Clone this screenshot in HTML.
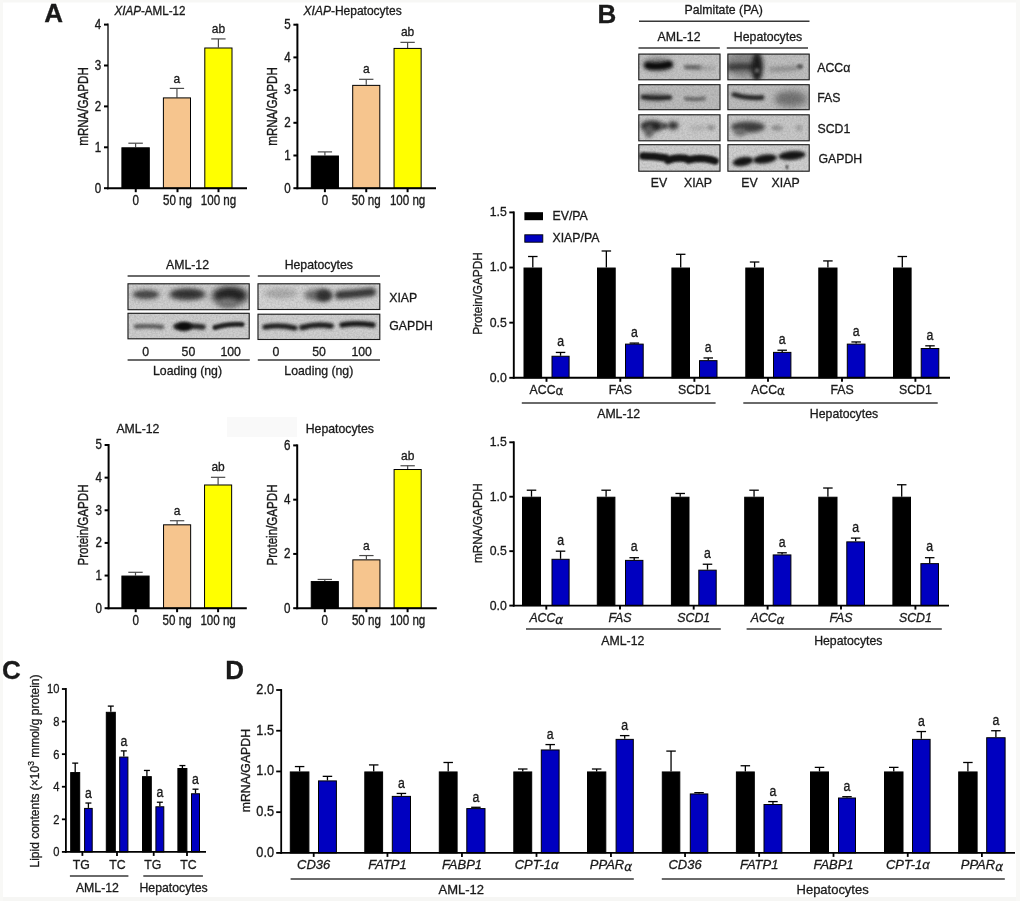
<!DOCTYPE html>
<html><head><meta charset="utf-8"><title>Figure</title>
<style>
html,body{margin:0;padding:0;background:#fff;}
body{width:1020px;height:901px;overflow:hidden;}
svg{display:block;will-change:transform;}
text{font-family:"Liberation Sans", Arial, sans-serif;fill:#1a1a1a;stroke:#1a1a1a;stroke-width:0.3px;}
</style></head><body>
<svg width="1020" height="901" viewBox="0 0 1020 901">
<defs><filter id="b5" filterUnits="userSpaceOnUse" x="0" y="0" width="1020" height="901"><feGaussianBlur stdDeviation="0.5"/></filter><filter id="b6" filterUnits="userSpaceOnUse" x="0" y="0" width="1020" height="901"><feGaussianBlur stdDeviation="0.6"/></filter><filter id="b7" filterUnits="userSpaceOnUse" x="0" y="0" width="1020" height="901"><feGaussianBlur stdDeviation="0.7"/></filter><filter id="b8" filterUnits="userSpaceOnUse" x="0" y="0" width="1020" height="901"><feGaussianBlur stdDeviation="0.8"/></filter><filter id="b9" filterUnits="userSpaceOnUse" x="0" y="0" width="1020" height="901"><feGaussianBlur stdDeviation="0.9"/></filter><filter id="b10" filterUnits="userSpaceOnUse" x="0" y="0" width="1020" height="901"><feGaussianBlur stdDeviation="1.0"/></filter><filter id="b11" filterUnits="userSpaceOnUse" x="0" y="0" width="1020" height="901"><feGaussianBlur stdDeviation="1.1"/></filter><filter id="b12" filterUnits="userSpaceOnUse" x="0" y="0" width="1020" height="901"><feGaussianBlur stdDeviation="1.2"/></filter><filter id="b13" filterUnits="userSpaceOnUse" x="0" y="0" width="1020" height="901"><feGaussianBlur stdDeviation="1.3"/></filter><filter id="b14" filterUnits="userSpaceOnUse" x="0" y="0" width="1020" height="901"><feGaussianBlur stdDeviation="1.4"/></filter><filter id="b15" filterUnits="userSpaceOnUse" x="0" y="0" width="1020" height="901"><feGaussianBlur stdDeviation="1.5"/></filter><filter id="b16" filterUnits="userSpaceOnUse" x="0" y="0" width="1020" height="901"><feGaussianBlur stdDeviation="1.6"/></filter><filter id="b17" filterUnits="userSpaceOnUse" x="0" y="0" width="1020" height="901"><feGaussianBlur stdDeviation="1.7"/></filter><filter id="b18" filterUnits="userSpaceOnUse" x="0" y="0" width="1020" height="901"><feGaussianBlur stdDeviation="1.8"/></filter><filter id="b19" filterUnits="userSpaceOnUse" x="0" y="0" width="1020" height="901"><feGaussianBlur stdDeviation="1.9"/></filter><filter id="b20" filterUnits="userSpaceOnUse" x="0" y="0" width="1020" height="901"><feGaussianBlur stdDeviation="2.0"/></filter><filter id="b21" filterUnits="userSpaceOnUse" x="0" y="0" width="1020" height="901"><feGaussianBlur stdDeviation="2.1"/></filter><filter id="b22" filterUnits="userSpaceOnUse" x="0" y="0" width="1020" height="901"><feGaussianBlur stdDeviation="2.2"/></filter><filter id="b23" filterUnits="userSpaceOnUse" x="0" y="0" width="1020" height="901"><feGaussianBlur stdDeviation="2.3"/></filter><filter id="b24" filterUnits="userSpaceOnUse" x="0" y="0" width="1020" height="901"><feGaussianBlur stdDeviation="2.4"/></filter><filter id="b25" filterUnits="userSpaceOnUse" x="0" y="0" width="1020" height="901"><feGaussianBlur stdDeviation="2.5"/></filter><filter id="b26" filterUnits="userSpaceOnUse" x="0" y="0" width="1020" height="901"><feGaussianBlur stdDeviation="2.6"/></filter><filter id="b27" filterUnits="userSpaceOnUse" x="0" y="0" width="1020" height="901"><feGaussianBlur stdDeviation="2.7"/></filter><filter id="b28" filterUnits="userSpaceOnUse" x="0" y="0" width="1020" height="901"><feGaussianBlur stdDeviation="2.8"/></filter><filter id="b29" filterUnits="userSpaceOnUse" x="0" y="0" width="1020" height="901"><feGaussianBlur stdDeviation="2.9"/></filter><filter id="b30" filterUnits="userSpaceOnUse" x="0" y="0" width="1020" height="901"><feGaussianBlur stdDeviation="3.0"/></filter><filter id="b31" filterUnits="userSpaceOnUse" x="0" y="0" width="1020" height="901"><feGaussianBlur stdDeviation="3.1"/></filter><filter id="b32" filterUnits="userSpaceOnUse" x="0" y="0" width="1020" height="901"><feGaussianBlur stdDeviation="3.2"/></filter><filter id="b33" filterUnits="userSpaceOnUse" x="0" y="0" width="1020" height="901"><feGaussianBlur stdDeviation="3.3"/></filter><filter id="b34" filterUnits="userSpaceOnUse" x="0" y="0" width="1020" height="901"><feGaussianBlur stdDeviation="3.4"/></filter><filter id="b35" filterUnits="userSpaceOnUse" x="0" y="0" width="1020" height="901"><feGaussianBlur stdDeviation="3.5"/></filter><filter id="b36" filterUnits="userSpaceOnUse" x="0" y="0" width="1020" height="901"><feGaussianBlur stdDeviation="3.6"/></filter><filter id="b37" filterUnits="userSpaceOnUse" x="0" y="0" width="1020" height="901"><feGaussianBlur stdDeviation="3.7"/></filter><filter id="b38" filterUnits="userSpaceOnUse" x="0" y="0" width="1020" height="901"><feGaussianBlur stdDeviation="3.8"/></filter><filter id="b39" filterUnits="userSpaceOnUse" x="0" y="0" width="1020" height="901"><feGaussianBlur stdDeviation="3.9"/></filter><filter id="grain0" x="0" y="0" width="100%" height="100%"><feTurbulence type="fractalNoise" baseFrequency="0.55" numOctaves="3" seed="3"/><feColorMatrix type="matrix" values="0 0 0 0 0  0 0 0 0 0  0 0 0 0 0  0 0 0 0.22 -0.07"/></filter><filter id="grain1" x="0" y="0" width="100%" height="100%"><feTurbulence type="fractalNoise" baseFrequency="0.55" numOctaves="3" seed="10"/><feColorMatrix type="matrix" values="0 0 0 0 0  0 0 0 0 0  0 0 0 0 0  0 0 0 0.22 -0.07"/></filter><filter id="grain2" x="0" y="0" width="100%" height="100%"><feTurbulence type="fractalNoise" baseFrequency="0.55" numOctaves="3" seed="17"/><feColorMatrix type="matrix" values="0 0 0 0 0  0 0 0 0 0  0 0 0 0 0  0 0 0 0.22 -0.07"/></filter></defs>
<rect width="1020" height="901" fill="#fff"/>
<rect x="0.00" y="0.00" width="1020.00" height="2.50" fill="#f7f7f5"/>
<rect x="0.00" y="897.00" width="1020.00" height="4.00" fill="#f6f6f4"/>
<rect x="227.00" y="417.00" width="70.00" height="20.00" fill="#f9f9f9"/>
<rect x="0.00" y="0.00" width="3.00" height="901.00" fill="#f8f8f6"/>
<rect x="1016.00" y="0.00" width="4.00" height="901.00" fill="#f8f8f6"/>
<text font-size="26" font-weight="bold" fill="#000" transform="translate(44.20 22.20)">A</text>
<line x1="135.60" y1="143.21" x2="135.60" y2="147.30" stroke="#4a4a4a" stroke-width="1.2"/>
<line x1="128.36" y1="143.21" x2="142.84" y2="143.21" stroke="#4a4a4a" stroke-width="1.2"/>
<rect x="121.90" y="147.80" width="27.40" height="40.40" fill="#000" stroke="#000" stroke-width="1.0"/>
<line x1="176.95" y1="88.40" x2="176.95" y2="97.40" stroke="#4a4a4a" stroke-width="1.2"/>
<line x1="169.78" y1="88.40" x2="184.12" y2="88.40" stroke="#4a4a4a" stroke-width="1.2"/>
<rect x="163.40" y="97.90" width="27.10" height="90.30" fill="#f6c58e" stroke="#000" stroke-width="1.0"/>
<text font-size="12" text-anchor="middle" transform="translate(176.95 82.50) scale(1.0 1.1)">a</text>
<line x1="218.40" y1="38.91" x2="218.40" y2="47.50" stroke="#4a4a4a" stroke-width="1.2"/>
<line x1="211.21" y1="38.91" x2="225.59" y2="38.91" stroke="#4a4a4a" stroke-width="1.2"/>
<rect x="204.80" y="48.00" width="27.20" height="140.20" fill="#ffff00" stroke="#000" stroke-width="1.0"/>
<text font-size="12" text-anchor="middle" transform="translate(218.40 33.01) scale(1.0 1.1)">ab</text>
<line x1="108.00" y1="23.60" x2="108.00" y2="189.20" stroke="#5a5a5a" stroke-width="2.0"/>
<line x1="107.00" y1="188.20" x2="247.00" y2="188.20" stroke="#000" stroke-width="2.0"/>
<line x1="104.00" y1="188.20" x2="108.00" y2="188.20" stroke="#000" stroke-width="2.0"/>
<text font-size="11.6" text-anchor="end" transform="translate(101.30 192.50) scale(1.0 1.22)">0</text>
<line x1="104.00" y1="147.30" x2="108.00" y2="147.30" stroke="#000" stroke-width="2.0"/>
<text font-size="11.6" text-anchor="end" transform="translate(101.30 151.60) scale(1.0 1.22)">1</text>
<line x1="104.00" y1="106.40" x2="108.00" y2="106.40" stroke="#000" stroke-width="2.0"/>
<text font-size="11.6" text-anchor="end" transform="translate(101.30 110.70) scale(1.0 1.22)">2</text>
<line x1="104.00" y1="65.50" x2="108.00" y2="65.50" stroke="#000" stroke-width="2.0"/>
<text font-size="11.6" text-anchor="end" transform="translate(101.30 69.80) scale(1.0 1.22)">3</text>
<line x1="104.00" y1="24.60" x2="108.00" y2="24.60" stroke="#000" stroke-width="2.0"/>
<text font-size="11.6" text-anchor="end" transform="translate(101.30 28.90) scale(1.0 1.22)">4</text>
<line x1="135.75" y1="188.20" x2="135.75" y2="192.20" stroke="#000" stroke-width="2.0"/>
<line x1="177.50" y1="188.20" x2="177.50" y2="192.20" stroke="#000" stroke-width="2.0"/>
<line x1="218.50" y1="188.20" x2="218.50" y2="192.20" stroke="#000" stroke-width="2.0"/>
<text font-size="11.6" text-anchor="middle" transform="translate(135.75 204.80) scale(1.0 1.22)">0</text>
<text font-size="11.6" text-anchor="middle" transform="translate(177.50 204.80) scale(1.0 1.22)">50 ng</text>
<text font-size="11.6" text-anchor="middle" transform="translate(218.50 204.80) scale(1.0 1.22)">100 ng</text>
<text font-size="11.6" text-anchor="middle" transform="translate(88.00 106.50) rotate(-90) scale(1.0 1.22)">mRNA/GAPDH</text>
<text font-size="11.6" text-anchor="middle" transform="translate(150.00 14.80) scale(1.0 1.17)"><tspan font-style="italic">XIAP</tspan>-AML-12</text>
<line x1="324.90" y1="151.90" x2="324.90" y2="155.50" stroke="#4a4a4a" stroke-width="1.2"/>
<line x1="317.73" y1="151.90" x2="332.07" y2="151.90" stroke="#4a4a4a" stroke-width="1.2"/>
<rect x="311.35" y="156.00" width="27.10" height="32.20" fill="#000" stroke="#000" stroke-width="1.0"/>
<line x1="366.25" y1="79.31" x2="366.25" y2="84.87" stroke="#4a4a4a" stroke-width="1.2"/>
<line x1="359.08" y1="79.31" x2="373.42" y2="79.31" stroke="#4a4a4a" stroke-width="1.2"/>
<rect x="352.70" y="85.37" width="27.10" height="102.83" fill="#f6c58e" stroke="#000" stroke-width="1.0"/>
<text font-size="12" text-anchor="middle" transform="translate(366.25 73.41) scale(1.0 1.1)">a</text>
<line x1="407.60" y1="42.36" x2="407.60" y2="47.92" stroke="#4a4a4a" stroke-width="1.2"/>
<line x1="400.43" y1="42.36" x2="414.77" y2="42.36" stroke="#4a4a4a" stroke-width="1.2"/>
<rect x="394.05" y="48.42" width="27.10" height="139.78" fill="#ffff00" stroke="#000" stroke-width="1.0"/>
<text font-size="12" text-anchor="middle" transform="translate(407.60 36.46) scale(1.0 1.1)">ab</text>
<line x1="297.40" y1="23.70" x2="297.40" y2="189.20" stroke="#000" stroke-width="2.0"/>
<line x1="296.40" y1="188.20" x2="436.00" y2="188.20" stroke="#000" stroke-width="2.0"/>
<line x1="293.40" y1="188.20" x2="297.40" y2="188.20" stroke="#000" stroke-width="2.0"/>
<text font-size="11.6" text-anchor="end" transform="translate(290.70 192.50) scale(1.0 1.22)">0</text>
<line x1="293.40" y1="155.50" x2="297.40" y2="155.50" stroke="#000" stroke-width="2.0"/>
<text font-size="11.6" text-anchor="end" transform="translate(290.70 159.80) scale(1.0 1.22)">1</text>
<line x1="293.40" y1="122.80" x2="297.40" y2="122.80" stroke="#000" stroke-width="2.0"/>
<text font-size="11.6" text-anchor="end" transform="translate(290.70 127.10) scale(1.0 1.22)">2</text>
<line x1="293.40" y1="90.10" x2="297.40" y2="90.10" stroke="#000" stroke-width="2.0"/>
<text font-size="11.6" text-anchor="end" transform="translate(290.70 94.40) scale(1.0 1.22)">3</text>
<line x1="293.40" y1="57.40" x2="297.40" y2="57.40" stroke="#000" stroke-width="2.0"/>
<text font-size="11.6" text-anchor="end" transform="translate(290.70 61.70) scale(1.0 1.22)">4</text>
<line x1="293.40" y1="24.70" x2="297.40" y2="24.70" stroke="#000" stroke-width="2.0"/>
<text font-size="11.6" text-anchor="end" transform="translate(290.70 29.00) scale(1.0 1.22)">5</text>
<line x1="324.90" y1="188.20" x2="324.90" y2="192.20" stroke="#000" stroke-width="2.0"/>
<line x1="366.25" y1="188.20" x2="366.25" y2="192.20" stroke="#000" stroke-width="2.0"/>
<line x1="407.60" y1="188.20" x2="407.60" y2="192.20" stroke="#000" stroke-width="2.0"/>
<text font-size="11.6" text-anchor="middle" transform="translate(324.90 204.80) scale(1.0 1.22)">0</text>
<text font-size="11.6" text-anchor="middle" transform="translate(366.25 204.80) scale(1.0 1.22)">50 ng</text>
<text font-size="11.6" text-anchor="middle" transform="translate(407.60 204.80) scale(1.0 1.22)">100 ng</text>
<text font-size="11.6" text-anchor="middle" transform="translate(277.00 106.50) rotate(-90) scale(1.0 1.22)">mRNA/GAPDH</text>
<text font-size="12" text-anchor="middle" transform="translate(352.60 14.50)"><tspan font-style="italic">XIAP</tspan>-Hepatocytes</text>
<line x1="135.50" y1="572.30" x2="135.50" y2="575.56" stroke="#4a4a4a" stroke-width="1.2"/>
<line x1="128.31" y1="572.30" x2="142.69" y2="572.30" stroke="#4a4a4a" stroke-width="1.2"/>
<rect x="121.90" y="576.06" width="27.20" height="32.14" fill="#000" stroke="#000" stroke-width="1.0"/>
<line x1="177.10" y1="520.72" x2="177.10" y2="524.32" stroke="#4a4a4a" stroke-width="1.2"/>
<line x1="169.93" y1="520.72" x2="184.27" y2="520.72" stroke="#4a4a4a" stroke-width="1.2"/>
<rect x="163.55" y="524.82" width="27.10" height="83.38" fill="#f6c58e" stroke="#000" stroke-width="1.0"/>
<text font-size="12" text-anchor="middle" transform="translate(177.10 514.82) scale(1.0 1.1)">a</text>
<line x1="218.10" y1="477.31" x2="218.10" y2="484.49" stroke="#4a4a4a" stroke-width="1.2"/>
<line x1="210.93" y1="477.31" x2="225.27" y2="477.31" stroke="#4a4a4a" stroke-width="1.2"/>
<rect x="204.55" y="484.99" width="27.10" height="123.21" fill="#ffff00" stroke="#000" stroke-width="1.0"/>
<text font-size="12" text-anchor="middle" transform="translate(218.10 471.41) scale(1.0 1.1)">ab</text>
<line x1="108.60" y1="444.00" x2="108.60" y2="609.20" stroke="#000" stroke-width="2.0"/>
<line x1="107.60" y1="608.20" x2="246.80" y2="608.20" stroke="#000" stroke-width="2.0"/>
<line x1="104.60" y1="608.20" x2="108.60" y2="608.20" stroke="#000" stroke-width="2.0"/>
<text font-size="11.6" text-anchor="end" transform="translate(101.90 612.50) scale(1.0 1.22)">0</text>
<line x1="104.60" y1="575.56" x2="108.60" y2="575.56" stroke="#000" stroke-width="2.0"/>
<text font-size="11.6" text-anchor="end" transform="translate(101.90 579.86) scale(1.0 1.22)">1</text>
<line x1="104.60" y1="542.92" x2="108.60" y2="542.92" stroke="#000" stroke-width="2.0"/>
<text font-size="11.6" text-anchor="end" transform="translate(101.90 547.22) scale(1.0 1.22)">2</text>
<line x1="104.60" y1="510.28" x2="108.60" y2="510.28" stroke="#000" stroke-width="2.0"/>
<text font-size="11.6" text-anchor="end" transform="translate(101.90 514.58) scale(1.0 1.22)">3</text>
<line x1="104.60" y1="477.64" x2="108.60" y2="477.64" stroke="#000" stroke-width="2.0"/>
<text font-size="11.6" text-anchor="end" transform="translate(101.90 481.94) scale(1.0 1.22)">4</text>
<line x1="104.60" y1="445.00" x2="108.60" y2="445.00" stroke="#000" stroke-width="2.0"/>
<text font-size="11.6" text-anchor="end" transform="translate(101.90 449.30) scale(1.0 1.22)">5</text>
<line x1="135.70" y1="608.20" x2="135.70" y2="612.20" stroke="#000" stroke-width="2.0"/>
<line x1="177.10" y1="608.20" x2="177.10" y2="612.20" stroke="#000" stroke-width="2.0"/>
<line x1="218.10" y1="608.20" x2="218.10" y2="612.20" stroke="#000" stroke-width="2.0"/>
<text font-size="11.6" text-anchor="middle" transform="translate(135.70 624.80) scale(1.0 1.22)">0</text>
<text font-size="11.6" text-anchor="middle" transform="translate(177.10 624.80) scale(1.0 1.22)">50 ng</text>
<text font-size="11.6" text-anchor="middle" transform="translate(218.10 624.80) scale(1.0 1.22)">100 ng</text>
<text font-size="11.6" text-anchor="middle" transform="translate(88.00 525.00) rotate(-90) scale(1.0 1.22)">Protein/GAPDH</text>
<text font-size="12.3" transform="translate(116.40 432.70) scale(1.0 1.03)">AML-12</text>
<line x1="324.80" y1="579.44" x2="324.80" y2="581.07" stroke="#4a4a4a" stroke-width="1.2"/>
<line x1="317.63" y1="579.44" x2="331.97" y2="579.44" stroke="#4a4a4a" stroke-width="1.2"/>
<rect x="311.25" y="581.57" width="27.10" height="26.63" fill="#000" stroke="#000" stroke-width="1.0"/>
<line x1="366.40" y1="555.56" x2="366.40" y2="559.36" stroke="#4a4a4a" stroke-width="1.2"/>
<line x1="359.23" y1="555.56" x2="373.57" y2="555.56" stroke="#4a4a4a" stroke-width="1.2"/>
<rect x="352.85" y="559.86" width="27.10" height="48.34" fill="#f6c58e" stroke="#000" stroke-width="1.0"/>
<text font-size="12" text-anchor="middle" transform="translate(366.40 549.66) scale(1.0 1.1)">a</text>
<line x1="407.65" y1="465.75" x2="407.65" y2="469.01" stroke="#4a4a4a" stroke-width="1.2"/>
<line x1="400.48" y1="465.75" x2="414.82" y2="465.75" stroke="#4a4a4a" stroke-width="1.2"/>
<rect x="394.10" y="469.51" width="27.10" height="138.69" fill="#ffff00" stroke="#000" stroke-width="1.0"/>
<text font-size="12" text-anchor="middle" transform="translate(407.65 459.85) scale(1.0 1.1)">ab</text>
<line x1="297.20" y1="444.40" x2="297.20" y2="609.20" stroke="#000" stroke-width="2.0"/>
<line x1="296.20" y1="608.20" x2="436.80" y2="608.20" stroke="#000" stroke-width="2.0"/>
<line x1="293.20" y1="608.20" x2="297.20" y2="608.20" stroke="#000" stroke-width="2.0"/>
<text font-size="11.6" text-anchor="end" transform="translate(290.50 612.50) scale(1.0 1.22)">0</text>
<line x1="293.20" y1="553.93" x2="297.20" y2="553.93" stroke="#000" stroke-width="2.0"/>
<text font-size="11.6" text-anchor="end" transform="translate(290.50 558.23) scale(1.0 1.22)">2</text>
<line x1="293.20" y1="499.67" x2="297.20" y2="499.67" stroke="#000" stroke-width="2.0"/>
<text font-size="11.6" text-anchor="end" transform="translate(290.50 503.97) scale(1.0 1.22)">4</text>
<line x1="293.20" y1="445.40" x2="297.20" y2="445.40" stroke="#000" stroke-width="2.0"/>
<text font-size="11.6" text-anchor="end" transform="translate(290.50 449.70) scale(1.0 1.22)">6</text>
<line x1="324.80" y1="608.20" x2="324.80" y2="612.20" stroke="#000" stroke-width="2.0"/>
<line x1="366.40" y1="608.20" x2="366.40" y2="612.20" stroke="#000" stroke-width="2.0"/>
<line x1="407.60" y1="608.20" x2="407.60" y2="612.20" stroke="#000" stroke-width="2.0"/>
<text font-size="11.6" text-anchor="middle" transform="translate(324.80 624.80) scale(1.0 1.22)">0</text>
<text font-size="11.6" text-anchor="middle" transform="translate(366.40 624.80) scale(1.0 1.22)">50 ng</text>
<text font-size="11.6" text-anchor="middle" transform="translate(407.60 624.80) scale(1.0 1.22)">100 ng</text>
<text font-size="11.6" text-anchor="middle" transform="translate(277.00 525.00) rotate(-90) scale(1.0 1.22)">Protein/GAPDH</text>
<text font-size="12.3" transform="translate(305.70 432.70) scale(1.0 1.03)">Hepatocytes</text>
<text font-size="26" font-weight="bold" fill="#000" transform="translate(597.60 23.40)">B</text>
<line x1="532.80" y1="256.51" x2="532.80" y2="267.53" stroke="#000" stroke-width="1.3"/>
<line x1="528.05" y1="256.51" x2="537.55" y2="256.51" stroke="#000" stroke-width="1.3"/>
<rect x="524.00" y="268.03" width="17.60" height="109.77" fill="#000" stroke="#000" stroke-width="1.0"/>
<line x1="560.55" y1="352.44" x2="560.55" y2="355.75" stroke="#000" stroke-width="1.3"/>
<line x1="555.80" y1="352.44" x2="565.30" y2="352.44" stroke="#000" stroke-width="1.3"/>
<rect x="552.00" y="356.25" width="17.10" height="21.55" fill="#0000c0" stroke="#000" stroke-width="1.0"/>
<text font-size="12.3" text-anchor="middle" transform="translate(560.55 346.14) scale(1.0 1.2)">a</text>
<line x1="606.35" y1="250.99" x2="606.35" y2="267.53" stroke="#000" stroke-width="1.3"/>
<line x1="601.60" y1="250.99" x2="611.10" y2="250.99" stroke="#000" stroke-width="1.3"/>
<rect x="597.50" y="268.03" width="17.70" height="109.77" fill="#000" stroke="#000" stroke-width="1.0"/>
<line x1="634.35" y1="343.07" x2="634.35" y2="343.62" stroke="#000" stroke-width="1.3"/>
<line x1="629.60" y1="343.07" x2="639.10" y2="343.07" stroke="#000" stroke-width="1.3"/>
<rect x="625.50" y="344.12" width="17.70" height="33.68" fill="#0000c0" stroke="#000" stroke-width="1.0"/>
<text font-size="12.3" text-anchor="middle" transform="translate(634.35 336.77) scale(1.0 1.2)">a</text>
<line x1="680.70" y1="254.30" x2="680.70" y2="267.53" stroke="#000" stroke-width="1.3"/>
<line x1="675.95" y1="254.30" x2="685.45" y2="254.30" stroke="#000" stroke-width="1.3"/>
<rect x="671.90" y="268.03" width="17.60" height="109.77" fill="#000" stroke="#000" stroke-width="1.0"/>
<line x1="708.25" y1="357.95" x2="708.25" y2="360.16" stroke="#000" stroke-width="1.3"/>
<line x1="703.50" y1="357.95" x2="713.00" y2="357.95" stroke="#000" stroke-width="1.3"/>
<rect x="699.50" y="360.66" width="17.50" height="17.14" fill="#0000c0" stroke="#000" stroke-width="1.0"/>
<text font-size="12.3" text-anchor="middle" transform="translate(708.25 351.65) scale(1.0 1.2)">a</text>
<line x1="754.60" y1="262.02" x2="754.60" y2="267.53" stroke="#000" stroke-width="1.3"/>
<line x1="749.85" y1="262.02" x2="759.35" y2="262.02" stroke="#000" stroke-width="1.3"/>
<rect x="745.80" y="268.03" width="17.60" height="109.77" fill="#000" stroke="#000" stroke-width="1.0"/>
<line x1="782.20" y1="350.23" x2="782.20" y2="351.89" stroke="#000" stroke-width="1.3"/>
<line x1="777.45" y1="350.23" x2="786.95" y2="350.23" stroke="#000" stroke-width="1.3"/>
<rect x="773.50" y="352.39" width="17.40" height="25.41" fill="#0000c0" stroke="#000" stroke-width="1.0"/>
<text font-size="12.3" text-anchor="middle" transform="translate(782.20 343.93) scale(1.0 1.2)">a</text>
<line x1="827.90" y1="260.92" x2="827.90" y2="267.53" stroke="#000" stroke-width="1.3"/>
<line x1="823.15" y1="260.92" x2="832.65" y2="260.92" stroke="#000" stroke-width="1.3"/>
<rect x="818.80" y="268.03" width="18.20" height="109.77" fill="#000" stroke="#000" stroke-width="1.0"/>
<line x1="856.15" y1="341.96" x2="856.15" y2="343.62" stroke="#000" stroke-width="1.3"/>
<line x1="851.40" y1="341.96" x2="860.90" y2="341.96" stroke="#000" stroke-width="1.3"/>
<rect x="847.30" y="344.12" width="17.70" height="33.68" fill="#0000c0" stroke="#000" stroke-width="1.0"/>
<text font-size="12.3" text-anchor="middle" transform="translate(856.15 335.66) scale(1.0 1.2)">a</text>
<line x1="902.30" y1="256.51" x2="902.30" y2="267.53" stroke="#000" stroke-width="1.3"/>
<line x1="897.55" y1="256.51" x2="907.05" y2="256.51" stroke="#000" stroke-width="1.3"/>
<rect x="893.50" y="268.03" width="17.60" height="109.77" fill="#000" stroke="#000" stroke-width="1.0"/>
<line x1="930.00" y1="345.82" x2="930.00" y2="348.03" stroke="#000" stroke-width="1.3"/>
<line x1="925.25" y1="345.82" x2="934.75" y2="345.82" stroke="#000" stroke-width="1.3"/>
<rect x="921.20" y="348.53" width="17.60" height="29.27" fill="#0000c0" stroke="#000" stroke-width="1.0"/>
<text font-size="12.3" text-anchor="middle" transform="translate(930.00 339.52) scale(1.0 1.2)">a</text>
<line x1="513.80" y1="211.45" x2="513.80" y2="378.75" stroke="#000" stroke-width="1.9"/>
<line x1="512.85" y1="377.80" x2="950.00" y2="377.80" stroke="#000" stroke-width="1.9"/>
<line x1="509.30" y1="377.80" x2="513.80" y2="377.80" stroke="#000" stroke-width="1.9"/>
<text font-size="12.3" text-anchor="end" transform="translate(506.80 381.70) scale(1.0 1.03)">0.0</text>
<line x1="509.30" y1="322.67" x2="513.80" y2="322.67" stroke="#000" stroke-width="1.9"/>
<text font-size="12.3" text-anchor="end" transform="translate(506.80 326.57) scale(1.0 1.03)">0.5</text>
<line x1="509.30" y1="267.53" x2="513.80" y2="267.53" stroke="#000" stroke-width="1.9"/>
<text font-size="12.3" text-anchor="end" transform="translate(506.80 271.43) scale(1.0 1.03)">1.0</text>
<line x1="509.30" y1="212.40" x2="513.80" y2="212.40" stroke="#000" stroke-width="1.9"/>
<text font-size="12.3" text-anchor="end" transform="translate(506.80 216.30) scale(1.0 1.03)">1.5</text>
<line x1="546.50" y1="377.80" x2="546.50" y2="381.80" stroke="#000" stroke-width="1.9"/>
<line x1="620.30" y1="377.80" x2="620.30" y2="381.80" stroke="#000" stroke-width="1.9"/>
<line x1="694.40" y1="377.80" x2="694.40" y2="381.80" stroke="#000" stroke-width="1.9"/>
<line x1="768.00" y1="377.80" x2="768.00" y2="381.80" stroke="#000" stroke-width="1.9"/>
<line x1="842.00" y1="377.80" x2="842.00" y2="381.80" stroke="#000" stroke-width="1.9"/>
<line x1="915.40" y1="377.80" x2="915.40" y2="381.80" stroke="#000" stroke-width="1.9"/>
<text font-size="11.8" text-anchor="middle" transform="translate(482.00 293.60) rotate(-90) scale(1.0 1.05)">Protein/GAPDH</text>
<rect x="524.40" y="212.20" width="18.60" height="8.00" fill="#000"/>
<text font-size="12.3" transform="translate(552.50 220.20) scale(1.0 1.03)">EV/PA</text>
<rect x="524.80" y="234.80" width="18.00" height="7.40" fill="#0000c0" stroke="#000" stroke-width="0.9"/>
<text font-size="12.3" transform="translate(552.50 242.20) scale(1.0 1.03)">XIAP/PA</text>
<text font-size="12.3" text-anchor="middle" transform="translate(546.50 393.80) scale(1.0 1.03)">ACC<tspan font-family="DejaVu Sans, sans-serif" font-size="12" dy="1.6">α</tspan></text>
<text font-size="12.3" text-anchor="middle" transform="translate(620.30 393.80) scale(1.0 1.03)">FAS</text>
<text font-size="12.3" text-anchor="middle" transform="translate(694.40 393.80) scale(1.0 1.03)">SCD1</text>
<text font-size="12.3" text-anchor="middle" transform="translate(768.00 393.80) scale(1.0 1.03)">ACC<tspan font-family="DejaVu Sans, sans-serif" font-size="12" dy="1.6">α</tspan></text>
<text font-size="12.3" text-anchor="middle" transform="translate(842.00 393.80) scale(1.0 1.03)">FAS</text>
<text font-size="12.3" text-anchor="middle" transform="translate(915.40 393.80) scale(1.0 1.03)">SCD1</text>
<line x1="521.80" y1="403.00" x2="715.60" y2="403.00" stroke="#383838" stroke-width="1.5"/>
<line x1="743.30" y1="403.00" x2="937.70" y2="403.00" stroke="#383838" stroke-width="1.5"/>
<text font-size="12.3" text-anchor="middle" transform="translate(618.70 417.90) scale(1.0 1.03)">AML-12</text>
<text font-size="12.3" text-anchor="middle" transform="translate(844.00 417.90) scale(1.0 1.03)">Hepatocytes</text>
<line x1="531.50" y1="490.20" x2="531.50" y2="496.73" stroke="#000" stroke-width="1.3"/>
<line x1="526.75" y1="490.20" x2="536.25" y2="490.20" stroke="#000" stroke-width="1.3"/>
<rect x="522.50" y="497.23" width="18.00" height="108.37" fill="#000" stroke="#000" stroke-width="1.0"/>
<line x1="560.55" y1="551.17" x2="560.55" y2="558.79" stroke="#000" stroke-width="1.3"/>
<line x1="555.80" y1="551.17" x2="565.30" y2="551.17" stroke="#000" stroke-width="1.3"/>
<rect x="552.00" y="559.29" width="17.10" height="46.31" fill="#0000c0" stroke="#000" stroke-width="1.0"/>
<text font-size="12.3" text-anchor="middle" transform="translate(560.55 544.87) scale(1.0 1.2)">a</text>
<line x1="606.10" y1="490.20" x2="606.10" y2="496.73" stroke="#000" stroke-width="1.3"/>
<line x1="601.35" y1="490.20" x2="610.85" y2="490.20" stroke="#000" stroke-width="1.3"/>
<rect x="597.30" y="497.23" width="17.60" height="108.37" fill="#000" stroke="#000" stroke-width="1.0"/>
<line x1="634.20" y1="557.70" x2="634.20" y2="559.88" stroke="#000" stroke-width="1.3"/>
<line x1="629.45" y1="557.70" x2="638.95" y2="557.70" stroke="#000" stroke-width="1.3"/>
<rect x="625.50" y="560.38" width="17.40" height="45.22" fill="#0000c0" stroke="#000" stroke-width="1.0"/>
<text font-size="12.3" text-anchor="middle" transform="translate(634.20 551.40) scale(1.0 1.2)">a</text>
<line x1="680.20" y1="493.47" x2="680.20" y2="496.73" stroke="#000" stroke-width="1.3"/>
<line x1="675.45" y1="493.47" x2="684.95" y2="493.47" stroke="#000" stroke-width="1.3"/>
<rect x="671.40" y="497.23" width="17.60" height="108.37" fill="#000" stroke="#000" stroke-width="1.0"/>
<line x1="707.50" y1="564.23" x2="707.50" y2="569.67" stroke="#000" stroke-width="1.3"/>
<line x1="702.75" y1="564.23" x2="712.25" y2="564.23" stroke="#000" stroke-width="1.3"/>
<rect x="698.80" y="570.17" width="17.40" height="35.43" fill="#0000c0" stroke="#000" stroke-width="1.0"/>
<text font-size="12.3" text-anchor="middle" transform="translate(707.50 557.93) scale(1.0 1.2)">a</text>
<line x1="754.05" y1="490.20" x2="754.05" y2="496.73" stroke="#000" stroke-width="1.3"/>
<line x1="749.30" y1="490.20" x2="758.80" y2="490.20" stroke="#000" stroke-width="1.3"/>
<rect x="744.70" y="497.23" width="18.70" height="108.37" fill="#000" stroke="#000" stroke-width="1.0"/>
<line x1="782.05" y1="552.80" x2="782.05" y2="554.43" stroke="#000" stroke-width="1.3"/>
<line x1="777.30" y1="552.80" x2="786.80" y2="552.80" stroke="#000" stroke-width="1.3"/>
<rect x="773.20" y="554.93" width="17.70" height="50.67" fill="#0000c0" stroke="#000" stroke-width="1.0"/>
<text font-size="12.3" text-anchor="middle" transform="translate(782.05 546.50) scale(1.0 1.2)">a</text>
<line x1="827.90" y1="488.02" x2="827.90" y2="496.73" stroke="#000" stroke-width="1.3"/>
<line x1="823.15" y1="488.02" x2="832.65" y2="488.02" stroke="#000" stroke-width="1.3"/>
<rect x="818.80" y="497.23" width="18.20" height="108.37" fill="#000" stroke="#000" stroke-width="1.0"/>
<line x1="855.65" y1="538.10" x2="855.65" y2="541.37" stroke="#000" stroke-width="1.3"/>
<line x1="850.90" y1="538.10" x2="860.40" y2="538.10" stroke="#000" stroke-width="1.3"/>
<rect x="846.80" y="541.87" width="17.70" height="63.73" fill="#0000c0" stroke="#000" stroke-width="1.0"/>
<text font-size="12.3" text-anchor="middle" transform="translate(855.65 531.80) scale(1.0 1.2)">a</text>
<line x1="901.70" y1="484.76" x2="901.70" y2="496.73" stroke="#000" stroke-width="1.3"/>
<line x1="896.95" y1="484.76" x2="906.45" y2="484.76" stroke="#000" stroke-width="1.3"/>
<rect x="892.90" y="497.23" width="17.60" height="108.37" fill="#000" stroke="#000" stroke-width="1.0"/>
<line x1="929.70" y1="557.70" x2="929.70" y2="563.14" stroke="#000" stroke-width="1.3"/>
<line x1="924.95" y1="557.70" x2="934.45" y2="557.70" stroke="#000" stroke-width="1.3"/>
<rect x="920.90" y="563.64" width="17.60" height="41.96" fill="#0000c0" stroke="#000" stroke-width="1.0"/>
<text font-size="12.3" text-anchor="middle" transform="translate(929.70 551.40) scale(1.0 1.2)">a</text>
<line x1="513.80" y1="441.35" x2="513.80" y2="606.55" stroke="#000" stroke-width="1.9"/>
<line x1="512.85" y1="605.60" x2="949.00" y2="605.60" stroke="#000" stroke-width="1.9"/>
<line x1="509.30" y1="605.60" x2="513.80" y2="605.60" stroke="#000" stroke-width="1.9"/>
<text font-size="12.3" text-anchor="end" transform="translate(506.80 609.50) scale(1.0 1.03)">0.0</text>
<line x1="509.30" y1="551.17" x2="513.80" y2="551.17" stroke="#000" stroke-width="1.9"/>
<text font-size="12.3" text-anchor="end" transform="translate(506.80 555.07) scale(1.0 1.03)">0.5</text>
<line x1="509.30" y1="496.73" x2="513.80" y2="496.73" stroke="#000" stroke-width="1.9"/>
<text font-size="12.3" text-anchor="end" transform="translate(506.80 500.63) scale(1.0 1.03)">1.0</text>
<line x1="509.30" y1="442.30" x2="513.80" y2="442.30" stroke="#000" stroke-width="1.9"/>
<text font-size="12.3" text-anchor="end" transform="translate(506.80 446.20) scale(1.0 1.03)">1.5</text>
<line x1="546.30" y1="605.60" x2="546.30" y2="609.60" stroke="#000" stroke-width="1.9"/>
<line x1="620.00" y1="605.60" x2="620.00" y2="609.60" stroke="#000" stroke-width="1.9"/>
<line x1="693.70" y1="605.60" x2="693.70" y2="609.60" stroke="#000" stroke-width="1.9"/>
<line x1="767.60" y1="605.60" x2="767.60" y2="609.60" stroke="#000" stroke-width="1.9"/>
<line x1="841.00" y1="605.60" x2="841.00" y2="609.60" stroke="#000" stroke-width="1.9"/>
<line x1="915.40" y1="605.60" x2="915.40" y2="609.60" stroke="#000" stroke-width="1.9"/>
<text font-size="11.8" text-anchor="middle" transform="translate(482.00 523.10) rotate(-90) scale(1.0 1.05)">mRNA/GAPDH</text>
<text font-size="12.3" text-anchor="middle" font-style="italic" transform="translate(546.30 622.00) scale(1.0 1.03)">ACC<tspan font-family="DejaVu Sans, sans-serif" font-size="12" dy="1.6">α</tspan></text>
<text font-size="12.3" text-anchor="middle" font-style="italic" transform="translate(620.00 622.00) scale(1.0 1.03)">FAS</text>
<text font-size="12.3" text-anchor="middle" font-style="italic" transform="translate(693.70 622.00) scale(1.0 1.03)">SCD1</text>
<text font-size="12.3" text-anchor="middle" font-style="italic" transform="translate(767.60 622.00) scale(1.0 1.03)">ACC<tspan font-family="DejaVu Sans, sans-serif" font-size="12" dy="1.6">α</tspan></text>
<text font-size="12.3" text-anchor="middle" font-style="italic" transform="translate(841.00 622.00) scale(1.0 1.03)">FAS</text>
<text font-size="12.3" text-anchor="middle" font-style="italic" transform="translate(915.40 622.00) scale(1.0 1.03)">SCD1</text>
<line x1="526.00" y1="629.00" x2="720.80" y2="629.00" stroke="#383838" stroke-width="1.5"/>
<line x1="746.60" y1="629.00" x2="941.80" y2="629.00" stroke="#383838" stroke-width="1.5"/>
<text font-size="12.3" text-anchor="middle" transform="translate(622.80 644.60) scale(1.0 1.03)">AML-12</text>
<text font-size="12.3" text-anchor="middle" transform="translate(848.30 644.60) scale(1.0 1.03)">Hepatocytes</text>
<text font-size="26" font-weight="bold" fill="#000" transform="translate(2.00 678.80)">C</text>
<line x1="75.20" y1="763.12" x2="75.20" y2="772.08" stroke="#000" stroke-width="1.3"/>
<line x1="72.20" y1="763.12" x2="78.20" y2="763.12" stroke="#000" stroke-width="1.3"/>
<rect x="70.70" y="772.58" width="9.00" height="79.32" fill="#000" stroke="#000" stroke-width="1.0"/>
<line x1="88.40" y1="803.03" x2="88.40" y2="807.92" stroke="#000" stroke-width="1.3"/>
<line x1="85.40" y1="803.03" x2="91.40" y2="803.03" stroke="#000" stroke-width="1.3"/>
<rect x="84.60" y="808.42" width="7.60" height="43.48" fill="#0000c0" stroke="#000" stroke-width="1.0"/>
<text font-size="12.3" text-anchor="middle" transform="translate(88.40 798.03) scale(1.0 1.2)">a</text>
<line x1="110.80" y1="706.10" x2="110.80" y2="711.81" stroke="#000" stroke-width="1.3"/>
<line x1="107.80" y1="706.10" x2="113.80" y2="706.10" stroke="#000" stroke-width="1.3"/>
<rect x="106.30" y="712.31" width="9.00" height="139.59" fill="#000" stroke="#000" stroke-width="1.0"/>
<line x1="123.80" y1="750.90" x2="123.80" y2="756.60" stroke="#000" stroke-width="1.3"/>
<line x1="120.80" y1="750.90" x2="126.80" y2="750.90" stroke="#000" stroke-width="1.3"/>
<rect x="119.70" y="757.10" width="8.20" height="94.80" fill="#0000c0" stroke="#000" stroke-width="1.0"/>
<text font-size="12.3" text-anchor="middle" transform="translate(123.80 745.90) scale(1.0 1.2)">a</text>
<line x1="146.90" y1="770.45" x2="146.90" y2="776.15" stroke="#000" stroke-width="1.3"/>
<line x1="143.90" y1="770.45" x2="149.90" y2="770.45" stroke="#000" stroke-width="1.3"/>
<rect x="142.50" y="776.65" width="8.80" height="75.25" fill="#000" stroke="#000" stroke-width="1.0"/>
<line x1="159.85" y1="802.22" x2="159.85" y2="806.29" stroke="#000" stroke-width="1.3"/>
<line x1="156.85" y1="802.22" x2="162.85" y2="802.22" stroke="#000" stroke-width="1.3"/>
<rect x="155.90" y="806.79" width="7.90" height="45.11" fill="#0000c0" stroke="#000" stroke-width="1.0"/>
<text font-size="12.3" text-anchor="middle" transform="translate(159.85 797.22) scale(1.0 1.2)">a</text>
<line x1="182.40" y1="765.56" x2="182.40" y2="768.01" stroke="#000" stroke-width="1.3"/>
<line x1="179.40" y1="765.56" x2="185.40" y2="765.56" stroke="#000" stroke-width="1.3"/>
<rect x="177.90" y="768.51" width="9.00" height="83.39" fill="#000" stroke="#000" stroke-width="1.0"/>
<line x1="195.50" y1="789.18" x2="195.50" y2="793.26" stroke="#000" stroke-width="1.3"/>
<line x1="192.50" y1="789.18" x2="198.50" y2="789.18" stroke="#000" stroke-width="1.3"/>
<rect x="191.50" y="793.76" width="8.00" height="58.14" fill="#0000c0" stroke="#000" stroke-width="1.0"/>
<text font-size="12.3" text-anchor="middle" transform="translate(195.50 784.18) scale(1.0 1.2)">a</text>
<line x1="65.90" y1="688.10" x2="65.90" y2="852.80" stroke="#000" stroke-width="1.8"/>
<line x1="65.00" y1="851.90" x2="206.00" y2="851.90" stroke="#000" stroke-width="1.8"/>
<line x1="61.90" y1="851.90" x2="65.90" y2="851.90" stroke="#000" stroke-width="1.8"/>
<text font-size="12" text-anchor="end" transform="translate(59.40 856.30) scale(0.93 1.04)">0</text>
<line x1="61.90" y1="819.32" x2="65.90" y2="819.32" stroke="#000" stroke-width="1.8"/>
<text font-size="12" text-anchor="end" transform="translate(59.40 823.72) scale(0.93 1.04)">2</text>
<line x1="61.90" y1="786.74" x2="65.90" y2="786.74" stroke="#000" stroke-width="1.8"/>
<text font-size="12" text-anchor="end" transform="translate(59.40 791.14) scale(0.93 1.04)">4</text>
<line x1="61.90" y1="754.16" x2="65.90" y2="754.16" stroke="#000" stroke-width="1.8"/>
<text font-size="12" text-anchor="end" transform="translate(59.40 758.56) scale(0.93 1.04)">6</text>
<line x1="61.90" y1="721.58" x2="65.90" y2="721.58" stroke="#000" stroke-width="1.8"/>
<text font-size="12" text-anchor="end" transform="translate(59.40 725.98) scale(0.93 1.04)">8</text>
<line x1="61.90" y1="689.00" x2="65.90" y2="689.00" stroke="#000" stroke-width="1.8"/>
<text font-size="12" text-anchor="end" transform="translate(59.40 693.40) scale(0.93 1.04)">10</text>
<line x1="82.40" y1="851.90" x2="82.40" y2="855.90" stroke="#000" stroke-width="1.8"/>
<line x1="117.00" y1="851.90" x2="117.00" y2="855.90" stroke="#000" stroke-width="1.8"/>
<line x1="153.70" y1="851.90" x2="153.70" y2="855.90" stroke="#000" stroke-width="1.8"/>
<line x1="187.00" y1="851.90" x2="187.00" y2="855.90" stroke="#000" stroke-width="1.8"/>
<text font-size="12.3" text-anchor="middle" transform="translate(81.30 868.60) scale(1.0 0.98)">TG</text>
<text font-size="12.3" text-anchor="middle" transform="translate(117.40 868.60) scale(1.0 0.98)">TC</text>
<text font-size="12.3" text-anchor="middle" transform="translate(152.70 868.60) scale(1.0 0.98)">TG</text>
<text font-size="12.3" text-anchor="middle" transform="translate(188.50 868.60) scale(1.0 0.98)">TC</text>
<line x1="69.90" y1="876.00" x2="128.40" y2="876.00" stroke="#383838" stroke-width="1.5"/>
<line x1="143.30" y1="876.00" x2="202.90" y2="876.00" stroke="#383838" stroke-width="1.5"/>
<text font-size="12.3" text-anchor="middle" transform="translate(97.40 892.10) scale(1.0 0.98)">AML-12</text>
<text font-size="12.3" text-anchor="middle" transform="translate(173.60 892.10) scale(1.0 0.98)">Hepatocytes</text>
<text font-size="12" text-anchor="middle" transform="translate(39.00 771.00) rotate(-90) scale(1.0 1.05)">Lipid contents (×10<tspan font-size="8.5" dy="-5">3</tspan><tspan dy="5"> mmol/g protein)</tspan></text>
<text font-size="26" font-weight="bold" fill="#000" transform="translate(225.30 679.10)">D</text>
<line x1="299.60" y1="766.56" x2="299.60" y2="771.45" stroke="#000" stroke-width="1.3"/>
<line x1="294.85" y1="766.56" x2="304.35" y2="766.56" stroke="#000" stroke-width="1.3"/>
<rect x="290.30" y="771.95" width="18.60" height="80.95" fill="#000" stroke="#000" stroke-width="1.0"/>
<line x1="327.45" y1="776.34" x2="327.45" y2="780.41" stroke="#000" stroke-width="1.3"/>
<line x1="322.70" y1="776.34" x2="332.20" y2="776.34" stroke="#000" stroke-width="1.3"/>
<rect x="318.50" y="780.91" width="17.90" height="71.99" fill="#0000c0" stroke="#000" stroke-width="1.0"/>
<line x1="373.70" y1="764.93" x2="373.70" y2="771.45" stroke="#000" stroke-width="1.3"/>
<line x1="368.95" y1="764.93" x2="378.45" y2="764.93" stroke="#000" stroke-width="1.3"/>
<rect x="364.80" y="771.95" width="17.80" height="80.95" fill="#000" stroke="#000" stroke-width="1.0"/>
<line x1="401.40" y1="793.44" x2="401.40" y2="795.88" stroke="#000" stroke-width="1.3"/>
<line x1="396.65" y1="793.44" x2="406.15" y2="793.44" stroke="#000" stroke-width="1.3"/>
<rect x="392.30" y="796.38" width="18.20" height="56.51" fill="#0000c0" stroke="#000" stroke-width="1.0"/>
<text font-size="12.3" text-anchor="middle" transform="translate(401.40 787.94) scale(1.0 1.2)">a</text>
<line x1="448.20" y1="762.49" x2="448.20" y2="771.45" stroke="#000" stroke-width="1.3"/>
<line x1="443.45" y1="762.49" x2="452.95" y2="762.49" stroke="#000" stroke-width="1.3"/>
<rect x="439.30" y="771.95" width="17.80" height="80.95" fill="#000" stroke="#000" stroke-width="1.0"/>
<line x1="475.90" y1="807.29" x2="475.90" y2="808.10" stroke="#000" stroke-width="1.3"/>
<line x1="471.15" y1="807.29" x2="480.65" y2="807.29" stroke="#000" stroke-width="1.3"/>
<rect x="466.80" y="808.60" width="18.20" height="44.30" fill="#0000c0" stroke="#000" stroke-width="1.0"/>
<text font-size="12.3" text-anchor="middle" transform="translate(475.90 801.79) scale(1.0 1.2)">a</text>
<line x1="522.75" y1="769.01" x2="522.75" y2="771.45" stroke="#000" stroke-width="1.3"/>
<line x1="518.00" y1="769.01" x2="527.50" y2="769.01" stroke="#000" stroke-width="1.3"/>
<rect x="513.80" y="771.95" width="17.90" height="80.95" fill="#000" stroke="#000" stroke-width="1.0"/>
<line x1="550.20" y1="744.57" x2="550.20" y2="749.46" stroke="#000" stroke-width="1.3"/>
<line x1="545.45" y1="744.57" x2="554.95" y2="744.57" stroke="#000" stroke-width="1.3"/>
<rect x="541.30" y="749.96" width="17.80" height="102.94" fill="#0000c0" stroke="#000" stroke-width="1.0"/>
<text font-size="12.3" text-anchor="middle" transform="translate(550.20 739.07) scale(1.0 1.2)">a</text>
<line x1="596.65" y1="769.01" x2="596.65" y2="771.45" stroke="#000" stroke-width="1.3"/>
<line x1="591.90" y1="769.01" x2="601.40" y2="769.01" stroke="#000" stroke-width="1.3"/>
<rect x="587.50" y="771.95" width="18.30" height="80.95" fill="#000" stroke="#000" stroke-width="1.0"/>
<line x1="624.70" y1="735.61" x2="624.70" y2="738.87" stroke="#000" stroke-width="1.3"/>
<line x1="619.95" y1="735.61" x2="629.45" y2="735.61" stroke="#000" stroke-width="1.3"/>
<rect x="616.10" y="739.37" width="17.20" height="113.53" fill="#0000c0" stroke="#000" stroke-width="1.0"/>
<text font-size="12.3" text-anchor="middle" transform="translate(624.70 730.11) scale(1.0 1.2)">a</text>
<line x1="671.05" y1="751.09" x2="671.05" y2="771.45" stroke="#000" stroke-width="1.3"/>
<line x1="666.30" y1="751.09" x2="675.80" y2="751.09" stroke="#000" stroke-width="1.3"/>
<rect x="662.30" y="771.95" width="17.50" height="80.95" fill="#000" stroke="#000" stroke-width="1.0"/>
<line x1="699.05" y1="792.63" x2="699.05" y2="793.44" stroke="#000" stroke-width="1.3"/>
<line x1="694.30" y1="792.63" x2="703.80" y2="792.63" stroke="#000" stroke-width="1.3"/>
<rect x="690.30" y="793.94" width="17.50" height="58.96" fill="#0000c0" stroke="#000" stroke-width="1.0"/>
<line x1="745.35" y1="765.75" x2="745.35" y2="771.45" stroke="#000" stroke-width="1.3"/>
<line x1="740.60" y1="765.75" x2="750.10" y2="765.75" stroke="#000" stroke-width="1.3"/>
<rect x="736.40" y="771.95" width="17.90" height="80.95" fill="#000" stroke="#000" stroke-width="1.0"/>
<line x1="772.95" y1="801.59" x2="772.95" y2="804.03" stroke="#000" stroke-width="1.3"/>
<line x1="768.20" y1="801.59" x2="777.70" y2="801.59" stroke="#000" stroke-width="1.3"/>
<rect x="764.00" y="804.53" width="17.90" height="48.37" fill="#0000c0" stroke="#000" stroke-width="1.0"/>
<text font-size="12.3" text-anchor="middle" transform="translate(772.95 796.09) scale(1.0 1.2)">a</text>
<line x1="819.50" y1="767.38" x2="819.50" y2="771.45" stroke="#000" stroke-width="1.3"/>
<line x1="814.75" y1="767.38" x2="824.25" y2="767.38" stroke="#000" stroke-width="1.3"/>
<rect x="810.50" y="771.95" width="18.00" height="80.95" fill="#000" stroke="#000" stroke-width="1.0"/>
<line x1="847.00" y1="796.70" x2="847.00" y2="797.51" stroke="#000" stroke-width="1.3"/>
<line x1="842.25" y1="796.70" x2="851.75" y2="796.70" stroke="#000" stroke-width="1.3"/>
<rect x="838.50" y="798.01" width="17.00" height="54.89" fill="#0000c0" stroke="#000" stroke-width="1.0"/>
<text font-size="12.3" text-anchor="middle" transform="translate(847.00 791.20) scale(1.0 1.2)">a</text>
<line x1="893.75" y1="767.38" x2="893.75" y2="771.45" stroke="#000" stroke-width="1.3"/>
<line x1="889.00" y1="767.38" x2="898.50" y2="767.38" stroke="#000" stroke-width="1.3"/>
<rect x="884.50" y="771.95" width="18.50" height="80.95" fill="#000" stroke="#000" stroke-width="1.0"/>
<line x1="921.30" y1="731.54" x2="921.30" y2="738.87" stroke="#000" stroke-width="1.3"/>
<line x1="916.55" y1="731.54" x2="926.05" y2="731.54" stroke="#000" stroke-width="1.3"/>
<rect x="912.50" y="739.37" width="17.60" height="113.53" fill="#0000c0" stroke="#000" stroke-width="1.0"/>
<text font-size="12.3" text-anchor="middle" transform="translate(921.30 726.04) scale(1.0 1.2)">a</text>
<line x1="967.90" y1="762.49" x2="967.90" y2="771.45" stroke="#000" stroke-width="1.3"/>
<line x1="963.15" y1="762.49" x2="972.65" y2="762.49" stroke="#000" stroke-width="1.3"/>
<rect x="958.70" y="771.95" width="18.40" height="80.95" fill="#000" stroke="#000" stroke-width="1.0"/>
<line x1="995.90" y1="730.73" x2="995.90" y2="737.24" stroke="#000" stroke-width="1.3"/>
<line x1="991.15" y1="730.73" x2="1000.65" y2="730.73" stroke="#000" stroke-width="1.3"/>
<rect x="986.70" y="737.74" width="18.40" height="115.16" fill="#0000c0" stroke="#000" stroke-width="1.0"/>
<text font-size="12.3" text-anchor="middle" transform="translate(995.90 725.23) scale(1.0 1.2)">a</text>
<line x1="281.20" y1="689.10" x2="281.20" y2="853.80" stroke="#000" stroke-width="1.8"/>
<line x1="280.30" y1="852.90" x2="1015.00" y2="852.90" stroke="#000" stroke-width="1.8"/>
<line x1="276.20" y1="852.90" x2="281.20" y2="852.90" stroke="#000" stroke-width="1.8"/>
<text font-size="12" text-anchor="end" transform="translate(274.00 856.80) scale(1.06 1.2)">0.0</text>
<line x1="276.20" y1="812.17" x2="281.20" y2="812.17" stroke="#000" stroke-width="1.8"/>
<text font-size="12" text-anchor="end" transform="translate(274.00 816.07) scale(1.06 1.2)">0.5</text>
<line x1="276.20" y1="771.45" x2="281.20" y2="771.45" stroke="#000" stroke-width="1.8"/>
<text font-size="12" text-anchor="end" transform="translate(274.00 775.35) scale(1.06 1.2)">1.0</text>
<line x1="276.20" y1="730.73" x2="281.20" y2="730.73" stroke="#000" stroke-width="1.8"/>
<text font-size="12" text-anchor="end" transform="translate(274.00 734.62) scale(1.06 1.2)">1.5</text>
<line x1="276.20" y1="690.00" x2="281.20" y2="690.00" stroke="#000" stroke-width="1.8"/>
<text font-size="12" text-anchor="end" transform="translate(274.00 693.90) scale(1.06 1.2)">2.0</text>
<line x1="313.70" y1="852.90" x2="313.70" y2="856.90" stroke="#000" stroke-width="1.8"/>
<line x1="387.45" y1="852.90" x2="387.45" y2="856.90" stroke="#000" stroke-width="1.8"/>
<line x1="461.95" y1="852.90" x2="461.95" y2="856.90" stroke="#000" stroke-width="1.8"/>
<line x1="536.50" y1="852.90" x2="536.50" y2="856.90" stroke="#000" stroke-width="1.8"/>
<line x1="610.95" y1="852.90" x2="610.95" y2="856.90" stroke="#000" stroke-width="1.8"/>
<line x1="685.05" y1="852.90" x2="685.05" y2="856.90" stroke="#000" stroke-width="1.8"/>
<line x1="759.15" y1="852.90" x2="759.15" y2="856.90" stroke="#000" stroke-width="1.8"/>
<line x1="833.50" y1="852.90" x2="833.50" y2="856.90" stroke="#000" stroke-width="1.8"/>
<line x1="907.75" y1="852.90" x2="907.75" y2="856.90" stroke="#000" stroke-width="1.8"/>
<line x1="981.90" y1="852.90" x2="981.90" y2="856.90" stroke="#000" stroke-width="1.8"/>
<text font-size="12.3" text-anchor="middle" transform="translate(250.30 770.60) rotate(-90) scale(1.0 1.03)">mRNA/GAPDH</text>
<text font-size="13" text-anchor="middle" font-style="italic" transform="translate(313.70 869.40) scale(1.0 0.95)">CD36</text>
<text font-size="13" text-anchor="middle" font-style="italic" transform="translate(387.45 869.40) scale(1.0 0.95)">FATP1</text>
<text font-size="13" text-anchor="middle" font-style="italic" transform="translate(461.95 869.40) scale(1.0 0.95)">FABP1</text>
<text font-size="13" text-anchor="middle" font-style="italic" transform="translate(536.50 869.40) scale(1.0 0.95)">CPT-1α</text>
<text font-size="13" text-anchor="middle" font-style="italic" transform="translate(610.95 869.40) scale(1.0 0.95)">PPAR<tspan font-family="DejaVu Sans, sans-serif" font-size="12" dy="1.6">α</tspan></text>
<text font-size="13" text-anchor="middle" font-style="italic" transform="translate(685.05 869.40) scale(1.0 0.95)">CD36</text>
<text font-size="13" text-anchor="middle" font-style="italic" transform="translate(759.15 869.40) scale(1.0 0.95)">FATP1</text>
<text font-size="13" text-anchor="middle" font-style="italic" transform="translate(833.50 869.40) scale(1.0 0.95)">FABP1</text>
<text font-size="13" text-anchor="middle" font-style="italic" transform="translate(907.75 869.40) scale(1.0 0.95)">CPT-1α</text>
<text font-size="13" text-anchor="middle" font-style="italic" transform="translate(981.90 869.40) scale(1.0 0.95)">PPAR<tspan font-family="DejaVu Sans, sans-serif" font-size="12" dy="1.6">α</tspan></text>
<line x1="290.60" y1="879.00" x2="633.80" y2="879.00" stroke="#383838" stroke-width="1.5"/>
<line x1="661.80" y1="879.00" x2="1004.80" y2="879.00" stroke="#383838" stroke-width="1.5"/>
<text font-size="13" text-anchor="middle" transform="translate(461.20 893.50) scale(1.0 0.95)">AML-12</text>
<text font-size="13" text-anchor="middle" transform="translate(832.60 893.50) scale(1.0 0.95)">Hepatocytes</text>
<text font-size="12.3" text-anchor="middle" transform="translate(187.50 269.00) scale(1.0 1.03)">AML-12</text>
<text font-size="12.3" text-anchor="middle" transform="translate(318.80 269.00) scale(1.0 1.03)">Hepatocytes</text>
<line x1="127.60" y1="276.00" x2="249.80" y2="276.00" stroke="#383838" stroke-width="1.5"/>
<line x1="257.80" y1="276.00" x2="380.00" y2="276.00" stroke="#383838" stroke-width="1.5"/>
<clipPath id="c1"><rect x="127.50" y="283.30" width="122.20" height="26.90"/></clipPath>
<g clip-path="url(#c1)">
<rect x="127.50" y="283.30" width="122.20" height="26.90" fill="#d0d0d0"/>
<ellipse cx="146.0" cy="294.5" rx="14.5" ry="5.2" fill="rgb(120,120,120)" filter="url(#b24)"/>
<ellipse cx="146.0" cy="294.5" rx="11.5" ry="3.2" fill="rgb(75,75,75)" filter="url(#b18)"/>
<ellipse cx="187.5" cy="294.5" rx="19.0" ry="6.0" fill="rgb(95,95,95)" filter="url(#b26)"/>
<ellipse cx="187.5" cy="294.0" rx="15.5" ry="4.0" fill="rgb(48,48,48)" filter="url(#b19)"/>
<ellipse cx="230.0" cy="296.0" rx="19.0" ry="10.0" fill="rgb(95,95,95)" filter="url(#b32)"/>
<ellipse cx="230.0" cy="295.0" rx="15.0" ry="6.5" fill="rgb(35,35,35)" filter="url(#b24)"/>
<ellipse cx="228.0" cy="303.0" rx="10.0" ry="5.0" fill="rgb(120,120,120)" filter="url(#b25)"/>
<rect x="127.50" y="283.30" width="122.20" height="26.90" fill="#000" filter="url(#grain1)" opacity="0.9"/>
</g>
<rect x="128.00" y="283.80" width="121.20" height="25.90" fill="none" stroke="#1a1a1a" stroke-width="1.1"/>
<clipPath id="c2"><rect x="127.50" y="312.80" width="122.20" height="26.50"/></clipPath>
<g clip-path="url(#c2)">
<rect x="127.50" y="312.80" width="122.20" height="26.50" fill="#cecece"/>
<path d="M136,326.5 Q150,325.5 162,327" fill="none" stroke="rgb(90,90,90)" stroke-width="4.4" stroke-linecap="round" stroke-linejoin="round" filter="url(#b15)"/>
<path d="M176,326.5 Q190,325.5 203,327" fill="none" stroke="rgb(38,38,38)" stroke-width="5.5" stroke-linecap="round" stroke-linejoin="round" filter="url(#b14)"/>
<ellipse cx="184.0" cy="326.5" rx="8.0" ry="4.5" fill="rgb(15,15,15)" filter="url(#b16)"/>
<path d="M215,327.5 Q230,323.5 242,324.5" fill="none" stroke="rgb(35,35,35)" stroke-width="5" stroke-linecap="round" stroke-linejoin="round" filter="url(#b13)"/>
<rect x="127.50" y="312.80" width="122.20" height="26.50" fill="#000" filter="url(#grain2)" opacity="0.9"/>
</g>
<rect x="128.00" y="313.30" width="121.20" height="25.50" fill="none" stroke="#1a1a1a" stroke-width="1.1"/>
<clipPath id="c3"><rect x="257.50" y="283.30" width="122.80" height="26.70"/></clipPath>
<g clip-path="url(#c3)">
<rect x="257.50" y="283.30" width="122.80" height="26.70" fill="#d4d4d4"/>
<ellipse cx="281.0" cy="293.5" rx="17.0" ry="5.0" fill="rgb(170,170,170)" filter="url(#b28)"/>
<ellipse cx="318.0" cy="295.0" rx="14.0" ry="6.0" fill="rgb(110,110,110)" filter="url(#b26)"/>
<ellipse cx="324.0" cy="295.5" rx="8.0" ry="6.0" fill="rgb(50,50,50)" filter="url(#b22)"/>
<path d="M339,295 Q355,294 372,292" fill="none" stroke="rgb(55,55,55)" stroke-width="8.5" stroke-linecap="round" stroke-linejoin="round" filter="url(#b23)"/>
<rect x="257.50" y="283.30" width="122.80" height="26.70" fill="#000" filter="url(#grain0)" opacity="0.9"/>
</g>
<rect x="258.00" y="283.80" width="121.80" height="25.70" fill="none" stroke="#1a1a1a" stroke-width="1.1"/>
<clipPath id="c4"><rect x="257.50" y="313.70" width="122.80" height="26.30"/></clipPath>
<g clip-path="url(#c4)">
<rect x="257.50" y="313.70" width="122.80" height="26.30" fill="#d0d0d0"/>
<path d="M265,327 Q280,324.5 295,328" fill="none" stroke="rgb(28,28,28)" stroke-width="5.2" stroke-linecap="round" stroke-linejoin="round" filter="url(#b14)"/>
<path d="M302,327.5 Q316,323.5 331,326" fill="none" stroke="rgb(28,28,28)" stroke-width="5.6" stroke-linecap="round" stroke-linejoin="round" filter="url(#b14)"/>
<path d="M342,325 Q356,322.5 373,325" fill="none" stroke="rgb(25,25,25)" stroke-width="5.6" stroke-linecap="round" stroke-linejoin="round" filter="url(#b14)"/>
<rect x="257.50" y="313.70" width="122.80" height="26.30" fill="#000" filter="url(#grain1)" opacity="0.9"/>
</g>
<rect x="258.00" y="314.20" width="121.80" height="25.30" fill="none" stroke="#1a1a1a" stroke-width="1.1"/>
<text font-size="12.3" transform="translate(389.20 301.70) scale(1.0 1.03)">XIAP</text>
<text font-size="12.3" transform="translate(389.20 330.30) scale(1.0 1.03)">GAPDH</text>
<text font-size="12.3" text-anchor="middle" transform="translate(145.60 356.00) scale(1.0 1.03)">0</text>
<text font-size="12.3" text-anchor="middle" transform="translate(188.40 356.00) scale(1.0 1.03)">50</text>
<text font-size="12.3" text-anchor="middle" transform="translate(230.70 356.00) scale(1.0 1.03)">100</text>
<text font-size="12.3" text-anchor="middle" transform="translate(276.00 356.00) scale(1.0 1.03)">0</text>
<text font-size="12.3" text-anchor="middle" transform="translate(319.00 356.00) scale(1.0 1.03)">50</text>
<text font-size="12.3" text-anchor="middle" transform="translate(361.70 356.00) scale(1.0 1.03)">100</text>
<line x1="127.60" y1="360.00" x2="249.80" y2="360.00" stroke="#383838" stroke-width="1.5"/>
<line x1="257.80" y1="360.00" x2="380.00" y2="360.00" stroke="#383838" stroke-width="1.5"/>
<text font-size="12.3" text-anchor="middle" transform="translate(187.50 375.30) scale(1.0 1.03)">Loading (ng)</text>
<text font-size="12.3" text-anchor="middle" transform="translate(318.80 375.30) scale(1.0 1.03)">Loading (ng)</text>
<text font-size="12.3" text-anchor="middle" transform="translate(723.60 13.60) scale(1.0 1.03)">Palmitate (PA)</text>
<line x1="639.00" y1="21.30" x2="809.50" y2="21.30" stroke="#383838" stroke-width="1.5"/>
<text font-size="12.3" text-anchor="middle" transform="translate(679.00 40.70) scale(1.0 1.03)">AML-12</text>
<text font-size="12.3" text-anchor="middle" transform="translate(768.00 40.70) scale(1.0 1.03)">Hepatocytes</text>
<line x1="638.50" y1="48.00" x2="719.80" y2="48.00" stroke="#383838" stroke-width="1.5"/>
<line x1="726.80" y1="48.00" x2="808.00" y2="48.00" stroke="#383838" stroke-width="1.5"/>
<clipPath id="c5"><rect x="638.30" y="53.60" width="82.20" height="26.70"/></clipPath>
<g clip-path="url(#c5)">
<rect x="638.30" y="53.60" width="82.20" height="26.70" fill="#c4c4c4"/>
<ellipse cx="658.0" cy="64.5" rx="16.0" ry="7.0" fill="rgb(120,120,120)" filter="url(#b28)"/>
<path d="M648,65.5 Q658,67.5 669,64.5" fill="none" stroke="rgb(15,15,15)" stroke-width="7" stroke-linecap="round" stroke-linejoin="round" filter="url(#b18)"/>
<path d="M686,67 Q693,67.5 700,67.5" fill="none" stroke="rgb(105,105,105)" stroke-width="4.5" stroke-linecap="round" stroke-linejoin="round" filter="url(#b17)"/>
<path d="M701,68 Q708,69 714,68" fill="none" stroke="rgb(160,160,160)" stroke-width="3.5" stroke-linecap="round" stroke-linejoin="round" filter="url(#b20)"/>
<rect x="638.30" y="53.60" width="82.20" height="26.70" fill="#000" filter="url(#grain2)" opacity="0.9"/>
</g>
<rect x="638.80" y="54.10" width="81.20" height="25.70" fill="none" stroke="#1a1a1a" stroke-width="1.1"/>
<clipPath id="c6"><rect x="638.30" y="84.20" width="82.20" height="26.00"/></clipPath>
<g clip-path="url(#c6)">
<rect x="638.30" y="84.20" width="82.20" height="26.00" fill="#bcbcbc"/>
<ellipse cx="655.0" cy="97.0" rx="14.0" ry="4.0" fill="rgb(130,130,130)" filter="url(#b25)"/>
<path d="M643,97 Q655,98.5 670,97.5" fill="none" stroke="rgb(35,35,35)" stroke-width="4.5" stroke-linecap="round" stroke-linejoin="round" filter="url(#b14)"/>
<path d="M686,98.5 Q694,100 704,98.5" fill="none" stroke="rgb(105,105,105)" stroke-width="4" stroke-linecap="round" stroke-linejoin="round" filter="url(#b17)"/>
<rect x="638.30" y="84.20" width="82.20" height="26.00" fill="#000" filter="url(#grain0)" opacity="0.9"/>
</g>
<rect x="638.80" y="84.70" width="81.20" height="25.00" fill="none" stroke="#1a1a1a" stroke-width="1.1"/>
<clipPath id="c7"><rect x="638.30" y="114.30" width="82.20" height="27.00"/></clipPath>
<g clip-path="url(#c7)">
<rect x="638.30" y="114.30" width="82.20" height="27.00" fill="#cccccc"/>
<ellipse cx="652.0" cy="126.0" rx="11.5" ry="5.5" fill="rgb(32,32,32)" filter="url(#b22)"/>
<ellipse cx="649.0" cy="131.0" rx="4.5" ry="7.0" fill="rgb(95,95,95)" filter="url(#b22)"/>
<ellipse cx="664.0" cy="126.0" rx="4.0" ry="3.0" fill="rgb(80,80,80)" filter="url(#b18)"/>
<ellipse cx="673.0" cy="125.5" rx="5.5" ry="4.0" fill="rgb(45,45,45)" filter="url(#b20)"/>
<ellipse cx="698.0" cy="128.0" rx="9.0" ry="2.8" fill="rgb(178,178,178)" filter="url(#b20)"/>
<ellipse cx="711.0" cy="127.5" rx="4.0" ry="3.0" fill="rgb(155,155,155)" filter="url(#b18)"/>
<rect x="638.30" y="114.30" width="82.20" height="27.00" fill="#000" filter="url(#grain1)" opacity="0.9"/>
</g>
<rect x="638.80" y="114.80" width="81.20" height="26.00" fill="none" stroke="#1a1a1a" stroke-width="1.1"/>
<clipPath id="c8"><rect x="638.30" y="144.20" width="82.20" height="27.50"/></clipPath>
<g clip-path="url(#c8)">
<rect x="638.30" y="144.20" width="82.20" height="27.50" fill="#cfcfcf"/>
<path d="M643,156 Q654,156 666,158 L668,160.5 Q675,157 686,158.5 L688,160 Q700,157 712,160 L715,161" fill="none" stroke="rgb(18,18,18)" stroke-width="7.5" stroke-linecap="round" stroke-linejoin="round" filter="url(#b13)"/>
<rect x="638.30" y="144.20" width="82.20" height="27.50" fill="#000" filter="url(#grain2)" opacity="0.9"/>
</g>
<rect x="638.80" y="144.70" width="81.20" height="26.50" fill="none" stroke="#1a1a1a" stroke-width="1.1"/>
<clipPath id="c9"><rect x="727.40" y="53.60" width="82.30" height="26.70"/></clipPath>
<g clip-path="url(#c9)">
<rect x="727.40" y="53.60" width="82.30" height="26.70" fill="#c0c0c0"/>
<ellipse cx="744.0" cy="64.0" rx="19.0" ry="14.0" fill="rgb(135,135,135)" filter="url(#b35)"/>
<path d="M731,67 Q742,66 756,67" fill="none" stroke="rgb(55,55,55)" stroke-width="6.5" stroke-linecap="round" stroke-linejoin="round" filter="url(#b22)"/>
<ellipse cx="757.0" cy="67.0" rx="5.5" ry="15.0" fill="rgb(30,30,30)" filter="url(#b22)"/>
<ellipse cx="757.0" cy="70.5" rx="2.5" ry="2.5" fill="rgb(95,95,95)" filter="url(#b12)"/>
<path d="M771,69.5 Q785,69 798,68" fill="none" stroke="rgb(135,135,135)" stroke-width="4" stroke-linecap="round" stroke-linejoin="round" filter="url(#b20)"/>
<ellipse cx="800.0" cy="66.5" rx="3.0" ry="2.5" fill="rgb(95,95,95)" filter="url(#b13)"/>
<rect x="727.40" y="53.60" width="82.30" height="26.70" fill="#000" filter="url(#grain0)" opacity="0.9"/>
</g>
<rect x="727.90" y="54.10" width="81.30" height="25.70" fill="none" stroke="#1a1a1a" stroke-width="1.1"/>
<clipPath id="c10"><rect x="727.40" y="84.20" width="82.30" height="26.00"/></clipPath>
<g clip-path="url(#c10)">
<rect x="727.40" y="84.20" width="82.30" height="26.00" fill="#bdbdbd"/>
<path d="M734,94.5 Q745,98.5 762,97.5" fill="none" stroke="rgb(38,38,38)" stroke-width="5" stroke-linecap="round" stroke-linejoin="round" filter="url(#b16)"/>
<ellipse cx="791.0" cy="99.0" rx="17.0" ry="9.0" fill="rgb(138,138,138)" filter="url(#b32)"/>
<ellipse cx="790.0" cy="98.5" rx="13.0" ry="5.0" fill="rgb(115,115,115)" filter="url(#b25)"/>
<rect x="727.40" y="84.20" width="82.30" height="26.00" fill="#000" filter="url(#grain1)" opacity="0.9"/>
</g>
<rect x="727.90" y="84.70" width="81.30" height="25.00" fill="none" stroke="#1a1a1a" stroke-width="1.1"/>
<clipPath id="c11"><rect x="727.40" y="114.30" width="82.30" height="27.00"/></clipPath>
<g clip-path="url(#c11)">
<rect x="727.40" y="114.30" width="82.30" height="27.00" fill="#c8c8c8"/>
<ellipse cx="748.0" cy="127.0" rx="17.0" ry="5.5" fill="rgb(60,60,60)" filter="url(#b22)"/>
<ellipse cx="740.0" cy="132.0" rx="6.0" ry="4.0" fill="rgb(110,110,110)" filter="url(#b20)"/>
<ellipse cx="777.0" cy="128.0" rx="6.0" ry="3.0" fill="rgb(150,150,150)" filter="url(#b18)"/>
<ellipse cx="799.0" cy="128.0" rx="3.5" ry="3.0" fill="rgb(165,165,165)" filter="url(#b16)"/>
<rect x="727.40" y="114.30" width="82.30" height="27.00" fill="#000" filter="url(#grain2)" opacity="0.9"/>
</g>
<rect x="727.90" y="114.80" width="81.30" height="26.00" fill="none" stroke="#1a1a1a" stroke-width="1.1"/>
<clipPath id="c12"><rect x="727.40" y="144.20" width="82.30" height="27.50"/></clipPath>
<g clip-path="url(#c12)">
<rect x="727.40" y="144.20" width="82.30" height="27.50" fill="#d0d0d0"/>
<ellipse cx="743.0" cy="161.5" rx="10.5" ry="4.6" fill="rgb(25,25,25)" filter="url(#b15)" transform="rotate(-10 743.0 161.5)"/>
<ellipse cx="765.0" cy="159.0" rx="12.0" ry="4.6" fill="rgb(25,25,25)" filter="url(#b15)" transform="rotate(-8 765.0 159.0)"/>
<ellipse cx="792.0" cy="155.5" rx="13.5" ry="4.6" fill="rgb(20,20,20)" filter="url(#b15)" transform="rotate(-5 792.0 155.5)"/>
<ellipse cx="787.0" cy="167.0" rx="1.2" ry="2.5" fill="rgb(60,60,60)" filter="url(#b8)"/>
<rect x="727.40" y="144.20" width="82.30" height="27.50" fill="#000" filter="url(#grain0)" opacity="0.9"/>
</g>
<rect x="727.90" y="144.70" width="81.30" height="26.50" fill="none" stroke="#1a1a1a" stroke-width="1.1"/>
<text font-size="12.3" transform="translate(817.30 71.70) scale(1.0 1.03)">ACCα</text>
<text font-size="12.3" transform="translate(817.30 101.50) scale(1.0 1.03)">FAS</text>
<text font-size="12.3" transform="translate(817.50 132.50) scale(1.0 1.03)">SCD1</text>
<text font-size="12.3" transform="translate(818.50 162.60) scale(1.0 1.03)">GAPDH</text>
<text font-size="12.3" text-anchor="middle" transform="translate(659.00 187.10) scale(1.0 1.03)">EV</text>
<text font-size="12.3" text-anchor="middle" transform="translate(698.00 187.10) scale(1.0 1.03)">XIAP</text>
<text font-size="12.3" text-anchor="middle" transform="translate(749.40 187.10) scale(1.0 1.03)">EV</text>
<text font-size="12.3" text-anchor="middle" transform="translate(785.60 187.10) scale(1.0 1.03)">XIAP</text>
</svg>
</body></html>
